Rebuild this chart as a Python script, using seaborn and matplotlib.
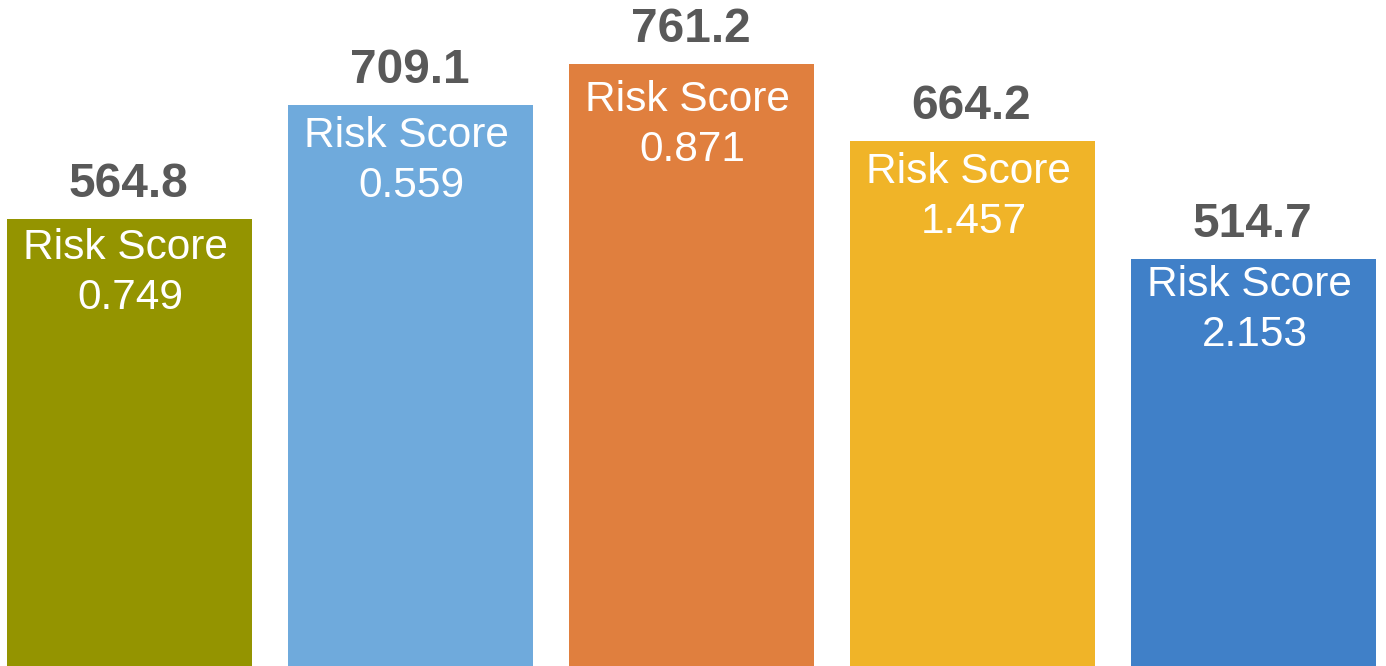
import matplotlib
matplotlib.use("Agg")
import matplotlib.pyplot as plt
import seaborn as sns
from pandas import DataFrame

groups = ["G1", "G2", "G3", "G4", "G5"]
values = [564.8, 709.1, 761.2, 664.2, 514.7]
risk_scores = ["0.749", "0.559", "0.871", "1.457", "2.153"]
colors = ["#949400", "#6FAADC", "#E07F3E", "#F0B428", "#4080C8"]

df = DataFrame({"group": groups, "value": values})

sns.set_style("white")
plt.rcParams["font.family"] = ["Liberation Sans", "DejaVu Sans"]

fig = plt.figure(figsize=(13.86, 6.66), dpi=100)
ax = fig.add_axes([0, 0, 1, 1])

sns.barplot(
    data=df,
    x="group",
    y="value",
    hue="group",
    palette=colors,
    width=0.872,
    saturation=1,
    linewidth=0,
    legend=False,
    ax=ax,
)

ax.set_xlim(-0.461, 4.4715)
ax.set_ylim(0, 842)
ax.axis("off")

px = 72 / 100  # points per pixel
# how far the inner label sits below each bar top (pixels)
inner_drop = [40, 42, 47, 42, 37]
for i, (v, rs) in enumerate(zip(values, risk_scores)):
    ax.annotate(f"{v:.1f}", (i, v), xytext=(-1 * px, 22 * px), textcoords="offset points",
                ha="center", va="baseline", fontsize=34.5, fontweight="bold", color="#595959")
    d = inner_drop[i]
    ax.annotate("Risk Score", (i, v), xytext=(-4 * px, -d * px), textcoords="offset points",
                ha="center", va="baseline", fontsize=30.5, color="white")
    ax.annotate(rs, (i, v), xytext=(1 * px, -(d + 50) * px), textcoords="offset points",
                ha="center", va="baseline", fontsize=30.5, color="white")

fig.savefig("out.png", dpi=100)
